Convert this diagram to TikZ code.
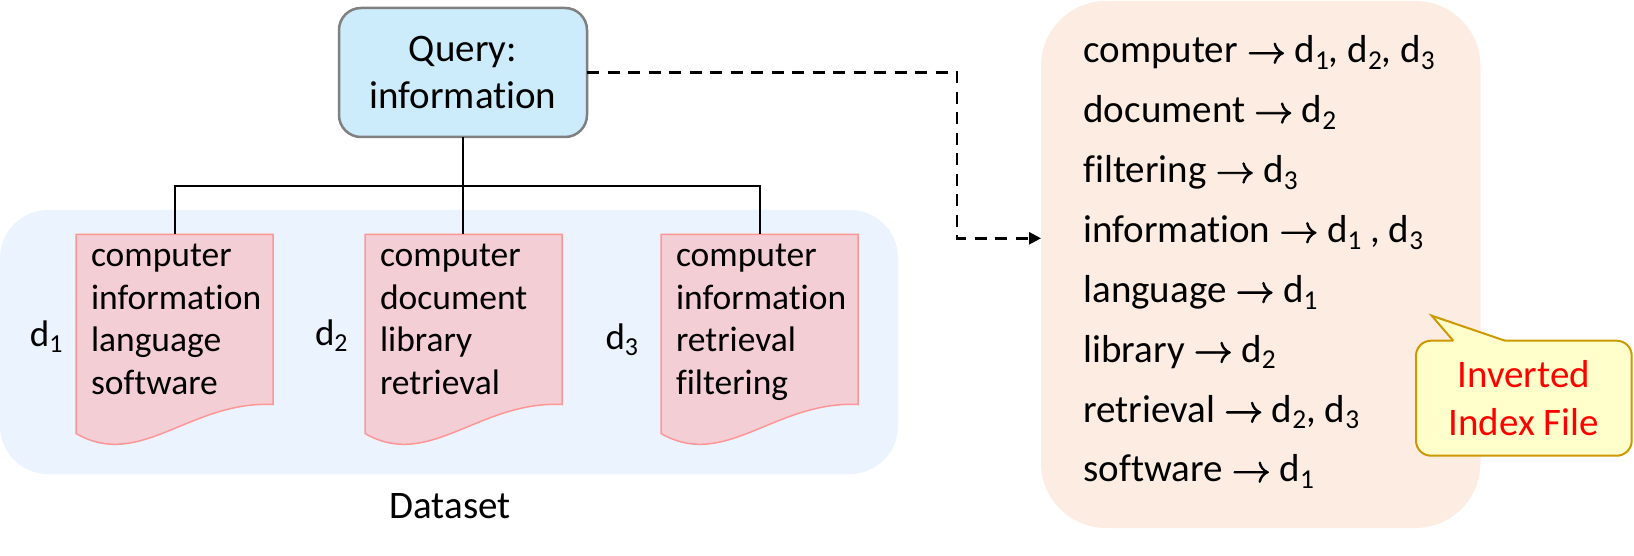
\documentclass[tikz,border=0pt]{standalone}
\usepackage{fontspec}
\usepackage{unicode-math}
\setmainfont{Carlito}[Ligatures=NoCommon]
\newfontfamily\arrfont{Latin Modern Math}[FakeBold=2]
\usepackage{graphicx}
\usetikzlibrary{arrows.meta,calc}
\definecolor{qfill}{RGB}{204,236,252}
\definecolor{qdraw}{RGB}{128,128,128}
\definecolor{dsfill}{RGB}{234,243,254}
\definecolor{docfill}{RGB}{243,206,213}
\definecolor{docdraw}{RGB}{255,150,150}
\definecolor{idxfill}{RGB}{252,236,225}
\definecolor{callfill}{RGB}{255,255,204}
\definecolor{calldraw}{RGB}{204,153,0}
\newcommand\sbs[1]{\raisebox{-0.17em}{\scalebox{0.7}{#1}}}
\newcommand\arr{{\arrfont →}}
\newcommand\drawdoc[1]{\draw[docshape] (#1.north west) -- (#1.north east) -- (#1.south east) .. controls +(-83,-4) and +(64,37) .. ($(#1.south west)+(0,29)$) -- cycle;}
\tikzset{
 base/.style={inner sep=0pt, outer sep=0pt},
 dsbox/.style={base, fill=dsfill, rounded corners=48pt, minimum width=898pt, minimum height=264pt, anchor=north west},
 docbox/.style={base, minimum width=197pt, minimum height=170pt, anchor=north west},
 docshape/.style={fill=docfill, draw=docdraw, line width=1.5pt},
 doctext/.style={base, anchor=base west, font=\fontsize{35.5}{42.5}\selectfont},
 dlabel/.style={base, anchor=base west, font=\fontsize{37}{44}\selectfont},
 qbox/.style={base, draw=qdraw, fill=qfill, line width=2.5pt, rounded corners=22pt, minimum width=248pt, minimum height=129pt, align=center, font=\fontsize{39}{47.6}\selectfont},
 tree/.style={line width=2pt, black},
 idxbox/.style={base, fill=idxfill, rounded corners=65pt, minimum width=439.5pt, minimum height=527pt, anchor=north west},
 idxtext/.style={base, anchor=base west, font=\fontsize{39}{47.6}\selectfont},
 dasharrow/.style={line width=2.5pt, dash pattern=on 12pt off 8.5pt, -{Triangle[length=12pt,width=12pt]}},
 callbox/.style={base, draw=calldraw, fill=callfill, line width=2pt, rounded corners=15pt, minimum width=215.7pt, minimum height=115pt, anchor=north west, align=center, text=red, font=\fontsize{39}{47.6}\selectfont},
 captext/.style={base, anchor=base, font=\fontsize{39}{47.6}\selectfont},
}
\begin{document}
\begin{tikzpicture}[x=1pt,y=-1pt]
\useasboundingbox (0,0) rectangle (1634,556);
% dataset background
\node[dsbox] (dataset) at (0,210) {};
\node[captext] (dsl) at (450,518.5) {Dataset};
% documents
\node[docbox] (d1) at (76,234.5) {};
\node[docbox] (d2) at (365,234.5) {};
\node[docbox] (d3) at (661,234.5) {};
\drawdoc{d1}
\drawdoc{d2}
\drawdoc{d3}
\node[doctext] (a1) at ($(d1.north west)+(15,32)$) {computer};
\node[doctext] (a2) at ($(d1.north west)+(15,74.5)$) {information};
\node[doctext] (a3) at ($(d1.north west)+(15,117)$) {language};
\node[doctext] (a4) at ($(d1.north west)+(15,159.5)$) {software};
\node[doctext] (b1) at ($(d2.north west)+(15,32)$) {computer};
\node[doctext] (b2) at ($(d2.north west)+(15,74.5)$) {document};
\node[doctext] (b3) at ($(d2.north west)+(15,117)$) {library};
\node[doctext] (b4) at ($(d2.north west)+(15,159.5)$) {retrieval};
\node[doctext] (c1) at ($(d3.north west)+(15,32)$) {computer};
\node[doctext] (c2) at ($(d3.north west)+(15,74.5)$) {information};
\node[doctext] (c3) at ($(d3.north west)+(15,117)$) {retrieval};
\node[doctext] (c4) at ($(d3.north west)+(15,159.5)$) {filtering};
\node[dlabel] (l1) at (30,346.5) {d\sbs{1}};
\node[dlabel] (l2) at (315,345) {d\sbs{2}};
\node[dlabel] (l3) at (605.5,349) {d\sbs{3}};
% query
\node[qbox] (q) at (463,72.5) {Query:\\information};
\coordinate (hub) at (463,186);
\draw[tree] (q.south) -- (q.south |- d2.north);
\draw[tree] (d1.north) |- (hub) -| (d3.north);
% inverted index
\node[idxbox] (idx) at (1041,1) {};
\node[idxtext] (e1) at (1083.5,63) {computer \arr{} d\sbs{1}, d\sbs{2}, d\sbs{3}};
\node[idxtext] (e2) at (1083.5,122.85) {document \arr{} d\sbs{2}};
\node[idxtext] (e3) at (1083.5,182.7) {filtering \arr{} d\sbs{3}};
\node[idxtext] (e4) at (1083.5,242.55) {information \arr{} d\sbs{1} , d\sbs{3}};
\node[idxtext] (e5) at (1083.5,302.4) {language \arr{} d\sbs{1}};
\node[idxtext] (e6) at (1083.5,362.25) {library \arr{} d\sbs{2}};
\node[idxtext] (e7) at (1083.5,422.1) {retrieval \arr{} d\sbs{2}, d\sbs{3}};
\node[idxtext] (e8) at (1083.5,481.95) {software \arr{} d\sbs{1}};
% dashed arrow
\coordinate (turn) at (957,238.3);
\draw[dasharrow] (q.east) -| (turn) -- (turn -| idx.west);
% callout
\node[callbox] (call) at (1416,340.7) {Inverted\\Index File};
\coordinate (tip) at (1431.7,315.7);
\fill[callfill] ($(call.north west)+(37.3,0)$) -- (tip) -- ($(call.north west)+(89,0)$) -- ($(call.north west)+(89,2)$) -- ($(call.north west)+(37.3,2)$) -- cycle;
\draw[calldraw, line width=2pt] ($(call.north west)+(37.3,0)$) -- (tip) -- ($(call.north west)+(89,0)$);
\end{tikzpicture}
\end{document}
